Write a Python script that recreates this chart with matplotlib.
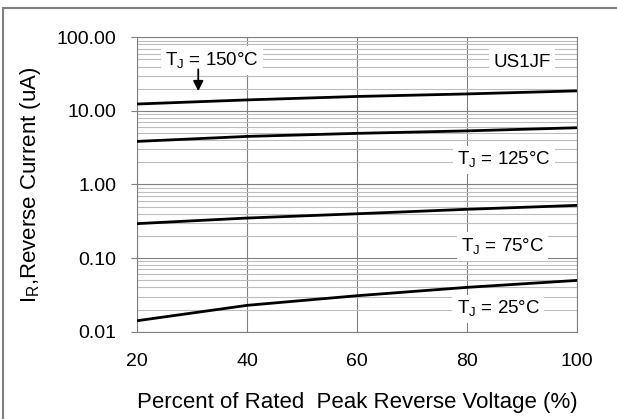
import matplotlib.pyplot as plt
from matplotlib.patches import Rectangle
from matplotlib.ticker import LogLocator, NullFormatter

plt.rcParams['font.family'] = ['Liberation Sans', 'DejaVu Sans']

# percent of rated peak reverse voltage
voltage = [20, 40, 60, 80, 100]
# reverse current (uA) for each junction temperature
ir_150 = [12.4, 14.1, 15.7, 17.0, 18.7]
ir_125 = [3.85, 4.5, 4.95, 5.35, 5.9]
ir_75 = [0.294, 0.35, 0.40, 0.46, 0.52]
ir_25 = [0.0141, 0.0228, 0.0308, 0.040, 0.0497]
y_ticks = [0.01, 0.1, 1, 10, 100]
y_ticklabels = ['0.01', '0.10', '1.00', '10.00', '100.00']

fig = plt.figure(figsize=(6.17, 4.19), dpi=100)
ax = fig.add_axes([0.2225, 0.2084, 0.7122, 0.7026])

for ir in [ir_150, ir_125, ir_75, ir_25]:
    ax.plot(voltage, ir, color='black', lw=2, zorder=3)

ax.set_yscale('log')
ax.set_xlim(20, 100)
ax.set_ylim(0.01, 100)
ax.set_xticks([20, 40, 60, 80, 100])
ax.set_yticks(y_ticks)
ax.set_yticklabels(y_ticklabels)
ax.yaxis.set_minor_locator(LogLocator(base=10, subs=range(2, 10)))
ax.yaxis.set_minor_formatter(NullFormatter())
ax.tick_params(axis='both', which='both', length=0, labelsize=14)
ax.tick_params(axis='y', which='major', length=4, color='#808080', direction='out', pad=11)
ax.tick_params(axis='x', pad=15)

ax.grid(True, which='major', axis='y', color='#808080', lw=0.8)
ax.grid(True, which='minor', axis='y', color='#bdbdbd', lw=0.8)
ax.grid(True, which='major', axis='x', color='#808080', lw=0.8)
for s in ax.spines.values():
    s.set_color('#808080')
    s.set_linewidth(0.8)

ax.set_xlabel('Percent of Rated  Peak Reverse Voltage (%)', fontsize=16, labelpad=16)
ax.set_ylabel('I$_\\mathregular{R}$,Reverse Current (uA)', fontsize=16, labelpad=10)

box = dict(facecolor='white', edgecolor='none', pad=3)
ax.text(33.6, 48, 'T$_\\mathregular{J}$ = 150°C', fontsize=13.5, ha='center', va='center', bbox=box, zorder=4)
ax.text(90.0, 46, 'US1JF', fontsize=13.5, ha='center', va='center', bbox=box, zorder=4)
ax.text(86.8, 2.15, 'T$_\\mathregular{J}$ = 125°C', fontsize=13.5, ha='center', va='center', bbox=box, zorder=4)
ax.text(86.5, 0.143, 'T$_\\mathregular{J}$ = 75°C', fontsize=13.5, ha='center', va='center', bbox=box, zorder=4)
ax.text(85.7, 0.0203, 'T$_\\mathregular{J}$ = 25°C', fontsize=13.5, ha='center', va='center', bbox=box, zorder=4)
ax.annotate('', xy=(31.1, 17.0), xytext=(31.1, 40),
            arrowprops=dict(arrowstyle='-|>', color='black', lw=1.3, mutation_scale=15), zorder=5)

fig.patches.append(Rectangle((3 / 617, -0.05), 1.1, 1 - 8 / 419 + 0.05, transform=fig.transFigure,
                             fill=False, edgecolor='#808080', lw=1.5))

fig.savefig('out.png', dpi=100)
